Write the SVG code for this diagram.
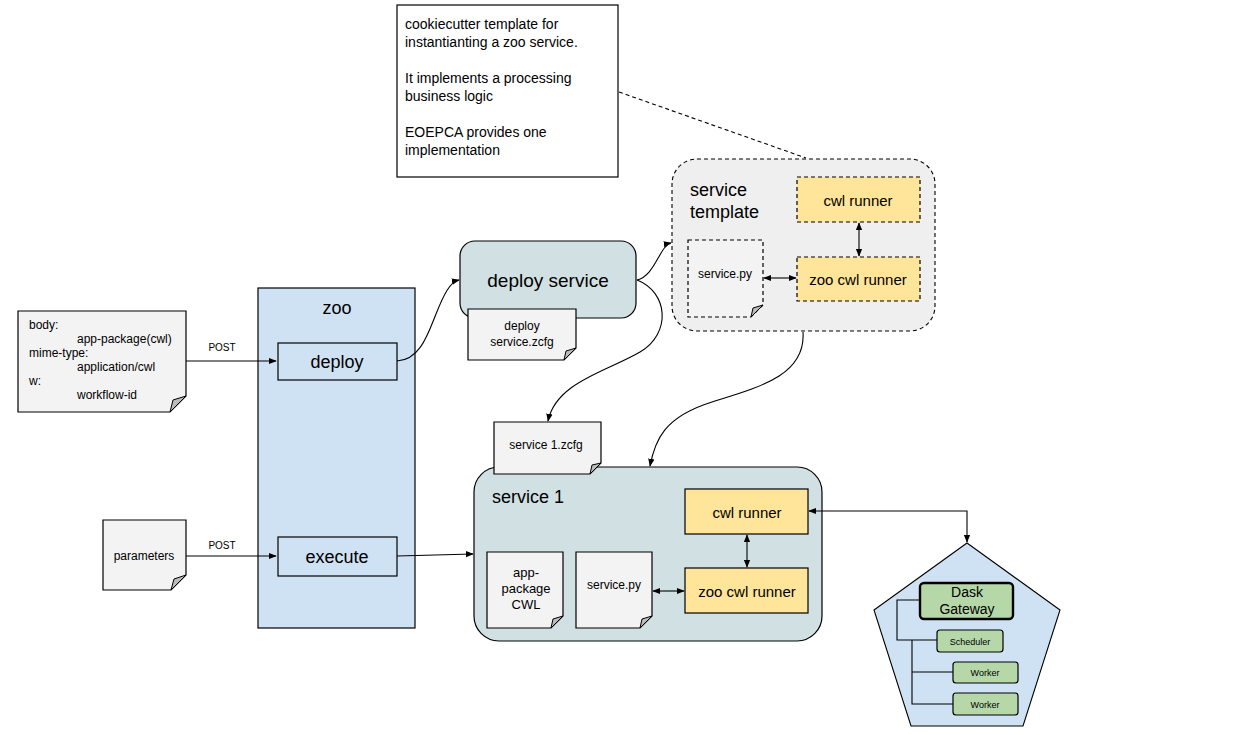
<svg xmlns="http://www.w3.org/2000/svg" width="1243" height="735" viewBox="0 0 1243 735">
<style>
text{font-family:"Liberation Sans",Arial,sans-serif;fill:#000}
.doc{fill:#f3f3f3;stroke:#000;stroke-width:1.2}
.fold{fill:#bbbbbb;stroke:#000;stroke-width:1}
.dash{stroke-dasharray:4,3}
.yel{fill:#ffe599;stroke:#000;stroke-width:1.2}
.blue{fill:#cfe2f3;stroke:#000;stroke-width:1.2}
.teal{fill:#d0e0e3;stroke:#000;stroke-width:1.2}
.grn{fill:#b6d7a8;stroke:#000;stroke-width:1.2}
.con{fill:none;stroke:#000;stroke-width:1.1}
.c{text-anchor:middle}
</style>
<defs>
<marker id="ah" viewBox="0 0 10 10" refX="9" refY="5" markerWidth="8" markerHeight="8" markerUnits="userSpaceOnUse" orient="auto-start-reverse">
<path d="M0,1 L10,5 L0,9 Z" fill="#000"/>
</marker>
</defs>

<g id="note">
<rect x="397" y="5" width="221" height="172" fill="#fff" stroke="#000" stroke-width="1.2"/>
<text x="405" y="29" font-size="14">cookiecutter template for</text>
<text x="405" y="47" font-size="14">instantianting a zoo service.</text>
<text x="405" y="83" font-size="14">It implements a processing</text>
<text x="405" y="101" font-size="14">business logic</text>
<text x="405" y="137" font-size="14">EOEPCA provides one</text>
<text x="405" y="155" font-size="14">implementation</text>
</g>

<g id="body-doc">
<path class="doc" d="M18,311 H186 V396 L170,412 H18 Z"/>
<path class="fold" d="M186,396 L170,412 L173,400 Z"/>
<text x="29" y="329" font-size="12">body:</text>
<text x="77" y="343" font-size="12">app-package(cwl)</text>
<text x="29" y="357" font-size="12">mime-type:</text>
<text x="77" y="371" font-size="12">application/cwl</text>
<text x="29" y="385" font-size="12">w:</text>
<text x="77" y="399" font-size="12">workflow-id</text>
</g>

<g id="parameters-doc">
<path class="doc" d="M103,520 H186 V575 L171,590 H103 Z"/>
<path class="fold" d="M186,575 L171,590 L174,579 Z"/>
<text x="144" y="560" font-size="12" class="c">parameters</text>
</g>

<g id="zoo">
<rect class="blue" x="258" y="288" width="157" height="340"/>
<text x="337" y="314" font-size="18" class="c">zoo</text>
</g>
<g id="deploy">
<rect class="blue" x="278" y="343" width="119" height="37"/>
<text x="337" y="368" font-size="18" class="c">deploy</text>
</g>
<g id="execute">
<rect class="blue" x="278" y="537" width="119" height="39"/>
<text x="337" y="563" font-size="18" class="c">execute</text>
</g>

<g id="deploy-service">
<rect class="teal" x="460" y="241" width="176" height="77" rx="15"/>
<text x="548" y="287" font-size="19" class="c">deploy service</text>
</g>
<g id="deploy-zcfg">
<path class="doc" d="M468,309 H576 V348 L564,360 H468 Z"/>
<path class="fold" d="M576,348 L564,360 L566,351 Z"/>
<text x="522" y="330" font-size="12" class="c">deploy</text>
<text x="522" y="346" font-size="12" class="c">service.zcfg</text>
</g>

<g id="service-template">
<rect x="672" y="159" width="263" height="172" rx="25" fill="#efefef" stroke="#000" stroke-width="1.1" class="dash"/>
<text x="690" y="196" font-size="18">service</text>
<text x="690" y="218" font-size="18">template</text>
</g>
<g id="tpl-cwl-runner">
<rect class="yel dash" x="797" y="177" width="123" height="45"/>
<text x="858" y="206" font-size="15" class="c">cwl runner</text>
</g>
<g id="tpl-zoo-cwl-runner">
<rect class="yel dash" x="797" y="257" width="123" height="44"/>
<text x="858" y="285" font-size="15" class="c">zoo cwl runner</text>
</g>
<g id="tpl-service-py">
<path class="doc dash" d="M688,240 H763 V305 L751,317 H688 Z"/>
<path class="fold" d="M763,305 L751,317 L753,308 Z"/>
<text x="725" y="278" font-size="12" class="c">service.py</text>
</g>

<g id="service-1">
<rect class="teal" x="474" y="467" width="348" height="174" rx="25"/>
<text x="492" y="503" font-size="18">service 1</text>
</g>
<g id="service1-zcfg">
<path class="doc" d="M494,422 H601 V463 L590,474 H494 Z"/>
<path class="fold" d="M601,463 L590,474 L592,465 Z"/>
<text x="546" y="449" font-size="12" class="c">service 1.zcfg</text>
</g>
<g id="s1-cwl-runner">
<rect class="yel" x="685" y="489" width="123" height="45"/>
<text x="747" y="518" font-size="15" class="c">cwl runner</text>
</g>
<g id="s1-zoo-cwl-runner">
<rect class="yel" x="685" y="568" width="123" height="45"/>
<text x="747" y="597" font-size="15" class="c">zoo cwl runner</text>
</g>
<g id="s1-app-package">
<path class="doc" d="M487,552 H563 V616 L551,628 H487 Z"/>
<path class="fold" d="M563,616 L551,628 L553,619 Z"/>
<text x="526" y="577" font-size="13" class="c">app-</text>
<text x="526" y="593" font-size="13" class="c">package</text>
<text x="526" y="609" font-size="13" class="c">CWL</text>
</g>
<g id="s1-service-py">
<path class="doc" d="M576,552 H652 V616 L640,628 H576 Z"/>
<path class="fold" d="M652,616 L640,628 L642,619 Z"/>
<text x="614" y="589" font-size="12" class="c">service.py</text>
</g>

<g id="dask-cluster">
<polygon points="967,543 1060,610 1023,726 911,726 874,610" fill="#cfe2f3" stroke="#000" stroke-width="1.1"/>
<path class="con" d="M920,600 H897 V640 H937 M912,640 V704 H953 M912,672 H953"/>
</g>
<g id="dask-gateway">
<rect class="grn" x="920" y="583" width="93" height="36" rx="4" style="stroke-width:2.4"/>
<text x="967" y="597" font-size="14" class="c">Dask</text>
<text x="967" y="614" font-size="14" class="c">Gateway</text>
</g>
<g id="scheduler">
<rect class="grn" x="937" y="630" width="66" height="22" rx="3"/>
<text x="970" y="645" font-size="9" class="c">Scheduler</text>
</g>
<g id="worker-1">
<rect class="grn" x="953" y="662" width="65" height="21" rx="3"/>
<text x="985" y="676" font-size="9" class="c">Worker</text>
</g>
<g id="worker-2">
<rect class="grn" x="953" y="693" width="65" height="22" rx="3"/>
<text x="985" y="708" font-size="9" class="c">Worker</text>
</g>

<g id="connectors">
<path class="con dash" d="M619,92 L806,158"/>
<path class="con" d="M186,361 H276" marker-end="url(#ah)"/>
<text x="222" y="351" font-size="10" class="c">POST</text>
<path class="con" d="M186,556 H276" marker-end="url(#ah)"/>
<text x="222" y="549" font-size="10" class="c">POST</text>
<path class="con" d="M397,361 C420,360 428,334 436,314 S450,282 459,280" marker-end="url(#ah)"/>
<path class="con" d="M637,280 C655,276 660,245 671,243" marker-end="url(#ah)"/>
<path class="con" d="M637,280 C668,292 672,333 640,352 S556,382 548,421" marker-end="url(#ah)"/>
<path class="con" d="M803,332 C806,375 760,387 712,402 S655,440 650,466" marker-end="url(#ah)"/>
<path class="con" d="M397,556 L473,554" marker-end="url(#ah)"/>
<path class="con" d="M859,223 V256" marker-start="url(#ah)" marker-end="url(#ah)"/>
<path class="con" d="M764,278 H796" marker-start="url(#ah)" marker-end="url(#ah)"/>
<path class="con" d="M747,535 V567" marker-start="url(#ah)" marker-end="url(#ah)"/>
<path class="con" d="M653,591 H684" marker-start="url(#ah)" marker-end="url(#ah)"/>
<path class="con" d="M809,511 H967 V542" marker-start="url(#ah)" marker-end="url(#ah)"/>
</g>
</svg>
